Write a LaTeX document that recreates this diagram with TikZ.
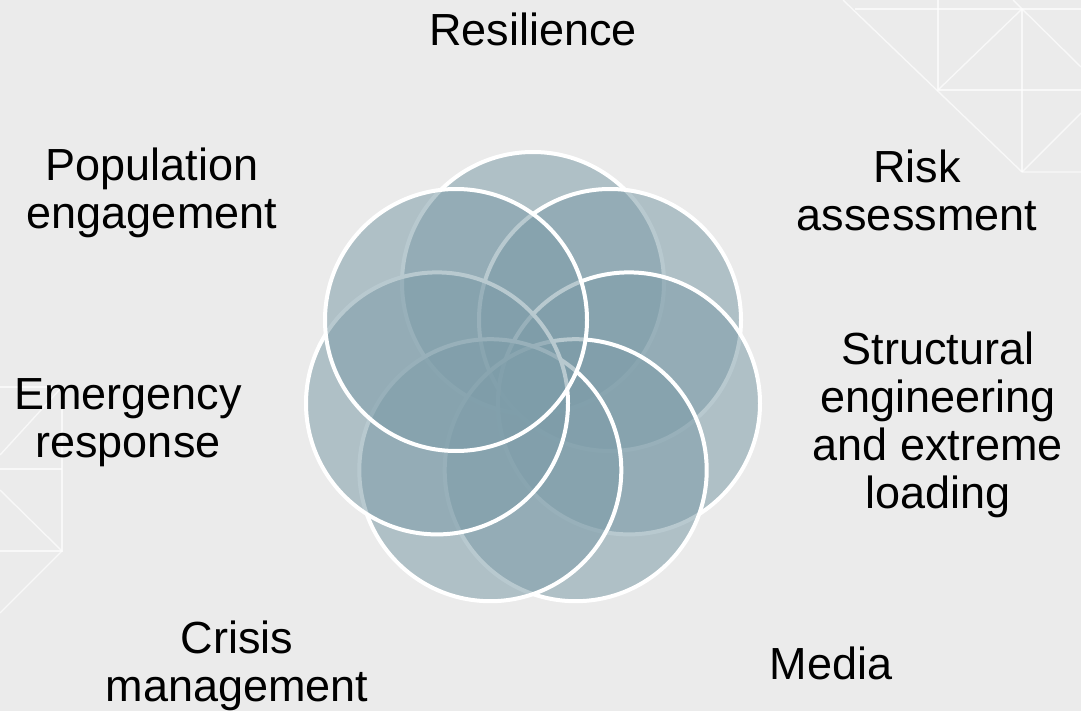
\documentclass[tikz,border=0pt]{standalone}
\usepackage{fontspec}
\setmainfont{Liberation Sans}
\definecolor{bgGrey}{HTML}{EBEBEB}
\definecolor{ringTeal}{HTML}{7E9DA9}

\begin{document}
\begin{tikzpicture}[x=0.5pt,y=-0.5pt,
    lbl/.style={font=\fontsize{22.5}{24}\selectfont,align=center,
                inner sep=0pt,text=black},
    ring/.style={draw=white,line width=2pt,fill=ringTeal,fill opacity=0.55},
    lattice/.style={draw=white,line width=0.7pt,opacity=0.65}]
  \fill[bgGrey] (0,0) rectangle (1081,711);
  \useasboundingbox (0,0) rectangle (1081,711);
  % lattice, top right corner
  \draw[lattice] (843,0) -- (1022,172) -- (1081,172);
  \draw[lattice] (855,9) -- (1081,9);
  \draw[lattice] (938,0) -- (938,90) -- (1081,90);
  \draw[lattice] (1022,9) -- (1022,172);
  \draw[lattice] (938,90) -- (1022,9);
  \draw[lattice] (1013,0) -- (1081,67);
  \draw[lattice] (1022,172) -- (1081,113);
  % lattice, left edge
  \draw[lattice] (0,387) -- (62,387) -- (62,551) -- (0,551);
  \draw[lattice] (0,455) -- (62,387);
  \draw[lattice] (0,469) -- (62,469);
  \draw[lattice] (0,490) -- (62,551) -- (0,613);
  % seven rings, clockwise from the top
  \draw[ring] (533,283) circle[radius=65.5pt];
  \draw[ring] (610,320) circle[radius=65.5pt];
  \draw[ring] (629,403.4) circle[radius=65.5pt];
  \draw[ring] (575.7,470.2) circle[radius=65.5pt];
  \draw[ring] (490.3,470.2) circle[radius=65.5pt];
  \draw[ring] (437,403.4) circle[radius=65.5pt];
  \draw[ring] (456,320) circle[radius=65.5pt];
  % labels
  \node[lbl] (res) at (533,29) {Resilience};
  \node[lbl] (risk) at (917,190) {Risk\\assessment};
  \node[lbl] (struct) at (938,425) {Structural\\engineering\\and extreme\\loading};
  \node[lbl] (media) at (831,663) {Media};
  \node[lbl] (crisis) at (237,666) {Crisis\\management};
  \node[lbl] (emerg) at (128,423) {Emergency\\response};
  \node[lbl] (pop) at (152,193) {Population\\engagement};
\end{tikzpicture}
\end{document}
